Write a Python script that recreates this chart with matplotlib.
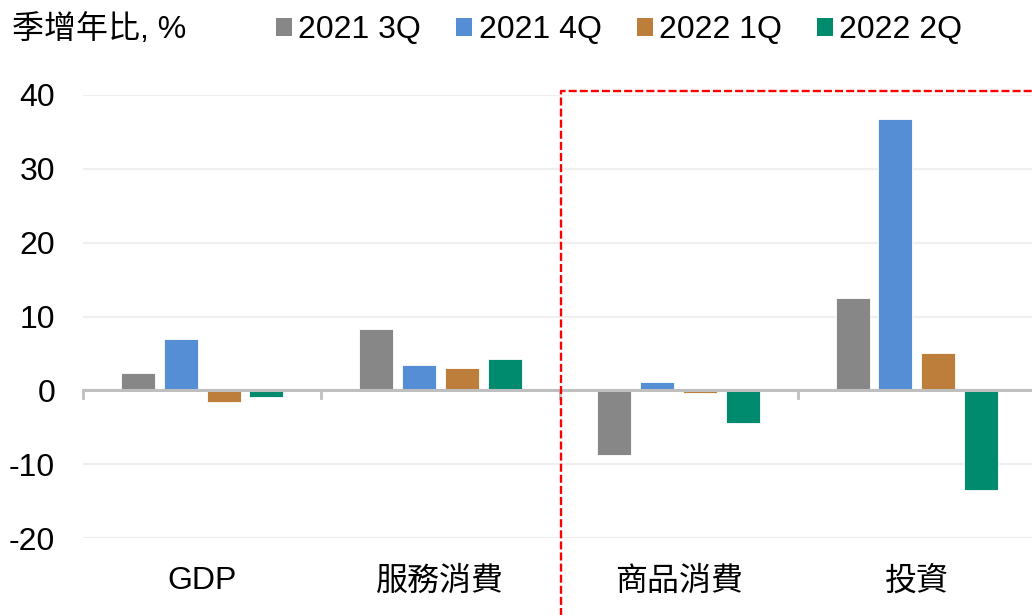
import matplotlib
matplotlib.use("Agg")
import matplotlib.pyplot as plt
import numpy as np
from matplotlib.lines import Line2D
from matplotlib.patches import Patch

plt.rcParams['font.family'] = ['Liberation Sans', 'Noto Sans CJK TC', 'DejaVu Sans']

categories = ['GDP', '服務消費', '商品消費', '投資']
series_names = ['2021 3Q', '2021 4Q', '2022 1Q', '2022 2Q']
q3_2021 = [2.3, 8.3, -8.8, 12.5]
q4_2021 = [6.9, 3.4, 1.1, 36.8]
q1_2022 = [-1.6, 3.0, -0.3, 5.0]
q2_2022 = [-0.9, 4.2, -4.4, -13.5]
colors = ['#878787', '#558ed5', '#bd7e3b', '#008a6e']
yticks = [-20, -10, 0, 10, 20, 30, 40]


def main():
    fig = plt.figure(figsize=(10.32, 6.15), dpi=100)
    ax = fig.add_axes([83 / 1032, 77 / 615, 953 / 1032, 443 / 615])

    x = np.arange(len(categories))
    pitch = 0.18
    width = 0.143
    all_series = [q3_2021, q4_2021, q1_2022, q2_2022]
    for i, (vals, name, c) in enumerate(zip(all_series, series_names, colors)):
        ax.bar(x + (i - 1.5) * pitch, vals, width, color=c, label=name,
               edgecolor='white', linewidth=0.6, zorder=3)

    ax.set_xlim(-0.5, len(categories) - 0.5)
    ax.set_ylim(-20, 40)
    ax.set_yticks(yticks)
    ax.set_yticklabels([str(t) for t in yticks])
    ax.yaxis.grid(True, color='#efefef', linewidth=1.6, zorder=0)
    ax.tick_params(axis='y', length=0, pad=20, labelsize=23)
    ax.set_xticks(x)
    ax.set_xticklabels(categories)
    ax.tick_params(axis='x', length=0, pad=20, labelsize=23)
    for s in ax.spines.values():
        s.set_visible(False)

    # zero line with category boundary ticks
    ax.axhline(0, color='#bfbfbf', linewidth=2.2, zorder=4)
    for b in np.arange(-0.5, len(categories), 1.0):
        ax.plot([b, b], [0, -1.1], color='#bfbfbf', linewidth=2.0, zorder=4,
                clip_on=False)

    fig.text(12 / 1032, 1 - 30 / 615, '季增年比, %', fontsize=23,
             ha='left', va='center')
    handles = [Patch(facecolor=c, edgecolor='none') for c in colors]
    fig.legend(handles, series_names, loc='center left',
               bbox_to_anchor=(276 / 1032, 1 - 30 / 615), ncol=4,
               frameon=False, fontsize=23, handlelength=0.5,
               handleheight=0.5, handletextpad=0.2, columnspacing=1.1,
               borderpad=0, borderaxespad=0)

    # red dashed highlight box
    xl = 561 / 1032
    yt = 1 - 90.5 / 615
    fig.add_artist(Line2D([xl, xl, 1.01], [-0.01, yt, yt],
                          transform=fig.transFigure, color='#ff0000',
                          linewidth=1.7, linestyle=(0, (3.4, 1.3))))

    fig.savefig('out.png', dpi=100)


if __name__ == '__main__':
    main()
